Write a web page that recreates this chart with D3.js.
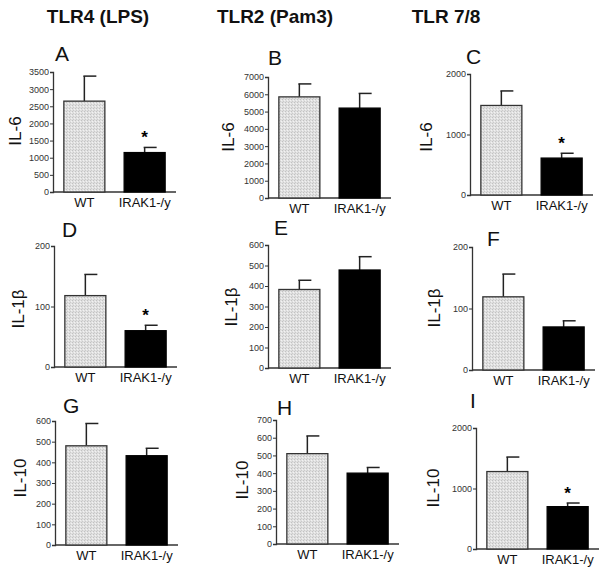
<!DOCTYPE html>
<html>
<head>
<meta charset="utf-8">
<script src="https://cdn.jsdelivr.net/npm/d3@7"></script>
<style>
  body { margin: 0; background: #fff; }
  svg { display: block; font-family: "Liberation Sans", Arial, sans-serif; }
</style>
</head>
<body>
<svg id="chart" width="603" height="574"></svg>
<script>
// data
var categories = ["WT", "IRAK1-/y"];
var columnTitles = ["TLR4 (LPS)", "TLR2 (Pam3)", "TLR 7/8"];
var cytokines = ["IL-6", "IL-1β", "IL-10"];
var panelLetters = ["A", "B", "C", "D", "E", "F", "G", "H", "I"];
var means = [
  [2650, 1150], [5850, 5200], [1480, 610],
  [118, 60], [383, 478], [119, 70],
  [480, 432], [510, 400], [1280, 700]
];
var sem = [
  [730, 150], [750, 850], [240, 80],
  [35, 9], [45, 65], [37, 10],
  [108, 36], [100, 32], [240, 60]
];
var yMax = [3500, 7000, 2000, 200, 600, 200, 600, 700, 2000];
var tickStep = [500, 1000, 1000, 100, 100, 100, 100, 100, 1000];
var significant = [
  [false, true], [false, false], [false, true],
  [false, true], [false, false], [false, false],
  [false, false], [false, false], [false, true]
];

// panel placement: y-axis x, top of axis, zero line, letter pos, y-label centre
var layout = [
  {ax: 53,  top: 72,  bottom: 192, lx: 55,  ly: 61,  tx: 15,  ty: 131},
  {ax: 268, top: 77,  bottom: 198, lx: 268, ly: 65,  tx: 228, ty: 137},
  {ax: 470, top: 74,  bottom: 195, lx: 466, ly: 64,  tx: 426, ty: 137},
  {ax: 54,  top: 246, bottom: 367, lx: 62,  ly: 237, tx: 18,  ty: 309},
  {ax: 268, top: 245, bottom: 368, lx: 274, ly: 235, tx: 231, ty: 307},
  {ax: 472, top: 247, bottom: 370, lx: 487, ly: 246, tx: 434, ty: 308},
  {ax: 55,  top: 421, bottom: 545, lx: 63,  ly: 413, tx: 20,  ty: 478},
  {ax: 276, top: 420, bottom: 544, lx: 277, ly: 415, tx: 242, ty: 480},
  {ax: 476, top: 428, bottom: 549, lx: 470, ly: 408, tx: 433, ty: 488}
];
var titleX = [98, 275, 446];

var svg = d3.select("#chart");

// stipple fill for the WT bars
var pat = svg.append("defs").append("pattern")
  .attr("id", "stipple")
  .attr("width", 3).attr("height", 3)
  .attr("patternUnits", "userSpaceOnUse");
pat.append("rect").attr("width", 3).attr("height", 3).attr("fill", "#e0e0e0");
pat.append("rect").attr("x", 0).attr("y", 0).attr("width", 1).attr("height", 1).attr("fill", "#c2c2c2");
pat.append("rect").attr("x", 2).attr("y", 1).attr("width", 1).attr("height", 1).attr("fill", "#f2f2f2");
pat.append("rect").attr("x", 1).attr("y", 2).attr("width", 1).attr("height", 1).attr("fill", "#cbcbcb");

svg.selectAll(".coltitle")
  .data(columnTitles)
  .enter().append("text")
  .attr("class", "coltitle")
  .attr("x", function(d, i) { return titleX[i]; })
  .attr("y", 23)
  .attr("text-anchor", "middle")
  .attr("font-size", 19)
  .attr("font-weight", "bold")
  .attr("fill", "#111")
  .text(function(d) { return d; });

panelLetters.forEach(function(letter, p) {
  var L = layout[p];
  var g = svg.append("g");

  var y = d3.scaleLinear().domain([0, yMax[p]]).range([L.bottom, L.top]);
  var x = d3.scaleBand().domain(categories)
    .range([L.ax, L.ax + 123])
    .paddingInner(0.32)
    .paddingOuter(0.18);

  var ticks = d3.range(0, yMax[p] + 1, tickStep[p]);
  var yAxis = g.append("g")
    .attr("transform", "translate(" + L.ax + ",0)")
    .call(d3.axisLeft(y).tickValues(ticks).tickSize(3).tickPadding(1).tickFormat(d3.format("d")));
  yAxis.select(".domain").attr("stroke", "#333").attr("stroke-width", 1.3);
  yAxis.selectAll(".tick line").attr("stroke", "#333");
  yAxis.selectAll(".tick text")
    .attr("font-size", 9)
    .attr("fill", "#333")
    .attr("font-family", "'Liberation Sans', Arial, sans-serif");

  // x baseline
  g.append("line")
    .attr("x1", L.ax).attr("x2", L.ax + 123)
    .attr("y1", L.bottom).attr("y2", L.bottom)
    .attr("stroke", "#333").attr("stroke-width", 1.3);

  var rows = categories.map(function(c, i) {
    return {cat: c, mean: means[p][i], err: sem[p][i], star: significant[p][i], i: i};
  });

  // error bars (upper only)
  g.selectAll(".err").data(rows).enter().append("line")
    .attr("x1", function(d) { return x(d.cat) + x.bandwidth() / 2; })
    .attr("x2", function(d) { return x(d.cat) + x.bandwidth() / 2; })
    .attr("y1", function(d) { return y(d.mean); })
    .attr("y2", function(d) { return y(d.mean + d.err); })
    .attr("stroke", "#222").attr("stroke-width", 1.5);
  g.selectAll(".cap").data(rows).enter().append("line")
    .attr("x1", function(d) { return x(d.cat) + x.bandwidth() / 2 - 1; })
    .attr("x2", function(d) { return x(d.cat) + x.bandwidth() / 2 + 12; })
    .attr("y1", function(d) { return y(d.mean + d.err); })
    .attr("y2", function(d) { return y(d.mean + d.err); })
    .attr("stroke", "#222").attr("stroke-width", 1.5);

  g.selectAll(".bar").data(rows).enter().append("rect")
    .attr("x", function(d) { return x(d.cat); })
    .attr("y", function(d) { return y(d.mean); })
    .attr("width", x.bandwidth())
    .attr("height", function(d) { return L.bottom - y(d.mean); })
    .attr("fill", function(d) { return d.i === 0 ? "url(#stipple)" : "#000"; })
    .attr("stroke", function(d) { return d.i === 0 ? "#333" : "#000"; })
    .attr("stroke-width", 1.3);

  g.selectAll(".star").data(rows.filter(function(d) { return d.star; })).enter().append("text")
    .attr("x", function(d) { return x(d.cat) + x.bandwidth() / 2; })
    .attr("y", function(d) { return y(d.mean + d.err) - 4; })
    .attr("text-anchor", "middle")
    .attr("font-size", 17)
    .attr("font-weight", "bold")
    .text("*");

  g.selectAll(".cat").data(categories).enter().append("text")
    .attr("x", function(d) { return x(d) + x.bandwidth() / 2; })
    .attr("y", L.bottom + 15)
    .attr("text-anchor", "middle")
    .attr("font-size", 13)
    .attr("fill", "#111")
    .text(function(d) { return d; });

  g.append("text")
    .attr("x", L.lx).attr("y", L.ly)
    .attr("font-size", 21)
    .attr("fill", "#111")
    .text(letter);

  g.append("text")
    .attr("transform", "translate(" + L.tx + "," + L.ty + ") rotate(-90)")
    .attr("text-anchor", "middle")
    .attr("dominant-baseline", "central")
    .attr("font-size", 17)
    .attr("fill", "#111")
    .text(cytokines[Math.floor(p / 3)]);
});
</script>
</body>
</html>
